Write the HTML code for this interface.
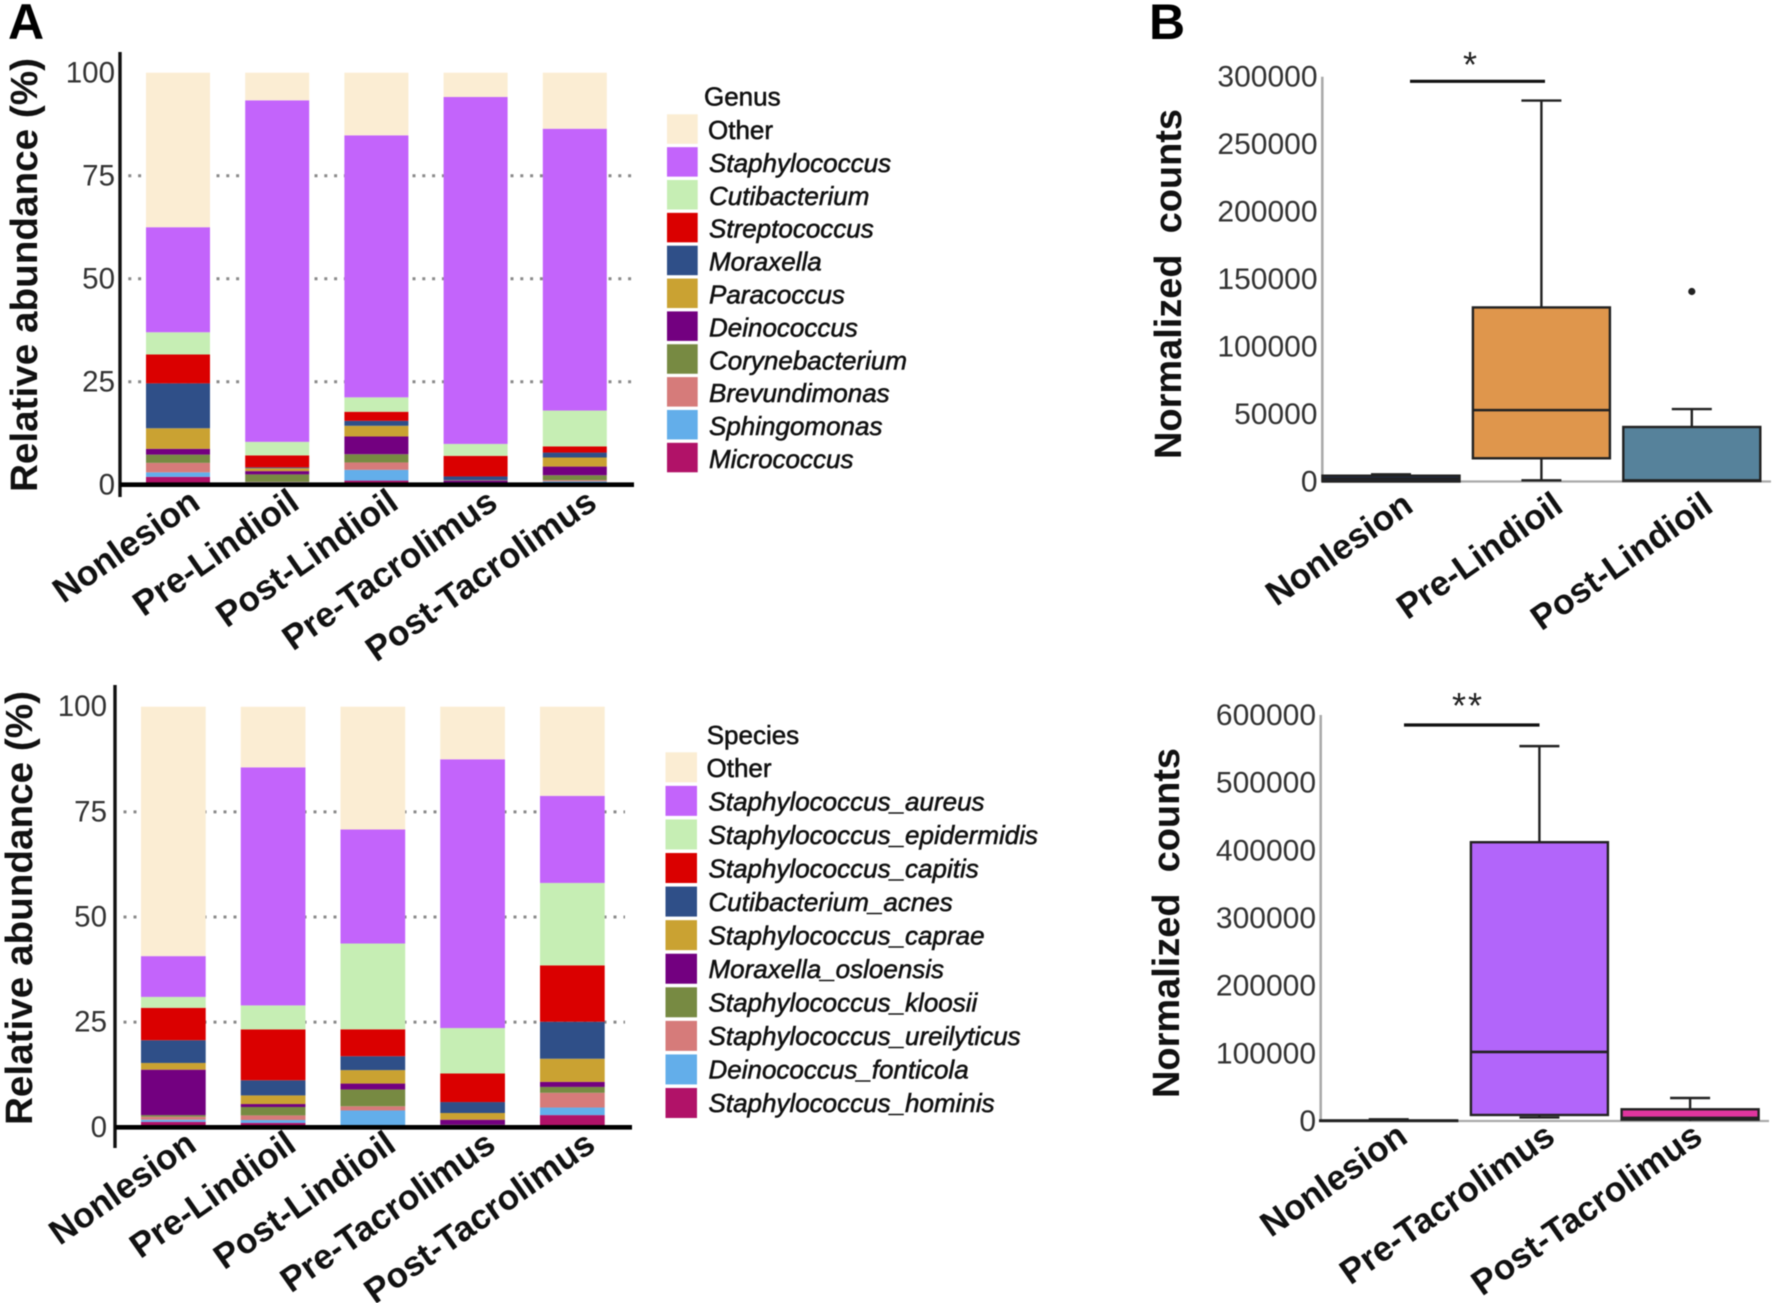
<!DOCTYPE html>
<html lang="en">
<head>
<meta charset="utf-8">
<title>Relative abundance and normalized counts</title>
<style>
html,body{margin:0;padding:0;background:#fff;}
#figure{display:block;width:1772px;height:1303px;font-family:"Liberation Sans",sans-serif;filter:blur(0.45px);}
.tick{font-size:29.5px;fill:#333;text-anchor:end;}
.cat{font-size:35px;font-weight:700;fill:#111;text-anchor:end;}
.leg{font-size:26px;fill:#111;stroke:#111;stroke-width:.55px;}
.ytitle{font-size:38px;font-weight:700;fill:#111;white-space:pre;}
.panel{font-size:50px;font-weight:700;fill:#000;}
.star{font-size:36px;fill:#222;text-anchor:middle;}
</style>
</head>
<body>
<svg id="figure" xmlns="http://www.w3.org/2000/svg" width="1772" height="1303" viewBox="0 0 1772 1303">
  <rect x="0" y="0" width="1772" height="1303" fill="#ffffff"/>
  <text class="panel" x="8" y="39">A</text>
  <text class="panel" x="1149" y="39">B</text>
  <text class="ytitle" transform="translate(37,492) rotate(-90)" textLength="434" lengthAdjust="spacingAndGlyphs">Relative abundance (%)</text>
  <text class="ytitle" transform="translate(32,1125) rotate(-90)" textLength="434" lengthAdjust="spacingAndGlyphs">Relative abundance (%)</text>
  <text class="ytitle" transform="translate(1181,459) rotate(-90)" textLength="350" lengthAdjust="spacingAndGlyphs">Normalized  counts</text>
  <text class="ytitle" transform="translate(1179,1098) rotate(-90)" textLength="350" lengthAdjust="spacingAndGlyphs">Normalized  counts</text>
  <text class="star" x="1470" y="77">*</text>
  <text class="star" x="1468" y="718" letter-spacing="2">**</text>
  <line x1="1410" y1="81.3" x2="1545" y2="81.3" stroke="#111" stroke-width="3.2"/>
  <line x1="1404" y1="725" x2="1539.5" y2="725" stroke="#111" stroke-width="3.2"/>
</svg>
<script>
// ---------- Panel A data ----------
const stackCategories = ["Nonlesion", "Pre-Lindioil", "Post-Lindioil", "Pre-Tacrolimus", "Post-Tacrolimus"];
const abundanceTicks = [0, 25, 50, 75, 100];
const gridTicks = [25, 50, 75];

const genusNames = ["Other", "Staphylococcus", "Cutibacterium", "Streptococcus", "Moraxella", "Paracoccus", "Deinococcus", "Corynebacterium", "Brevundimonas", "Sphingomonas", "Micrococcus"];
const genusOther = [37.5, 6.7, 15.2, 5.9, 13.6];
const genusStaphylococcus = [25.5, 82.9, 63.6, 84.2, 68.4];
const genusCutibacterium = [5.4, 3.3, 3.5, 2.9, 8.7];
const genusStreptococcus = [7, 2.9, 2.2, 5, 1.5];
const genusMoraxella = [10.9, 0.2, 1.2, 0.9, 1.2];
const genusParacoccus = [5, 0.7, 2.6, 0.1, 2.2];
const genusDeinococcus = [1.4, 0.8, 4.3, 0.5, 2.1];
const genusCorynebacterium = [2, 1.8, 2, 0.1, 1.2];
const genusBrevundimonas = [2.3, 0.1, 1.8, 0.1, 0.3];
const genusSphingomonas = [1.1, 0.4, 2.6, 0.1, 0.3];
const genusMicrococcus = [1.9, 0.2, 1, 0.2, 0.5];

const speciesNames = ["Other", "Staphylococcus_aureus", "Staphylococcus_epidermidis", "Staphylococcus_capitis", "Cutibacterium_acnes", "Staphylococcus_caprae", "Moraxella_osloensis", "Staphylococcus_kloosii", "Staphylococcus_ureilyticus", "Deinococcus_fonticola", "Staphylococcus_hominis"];
const speciesOther = [59.3, 14.4, 29.2, 12.5, 21.2];
const speciesAureus = [9.7, 56.6, 27.1, 63.9, 20.7];
const speciesEpidermidis = [2.6, 5.7, 20.4, 10.8, 19.6];
const speciesCapitis = [7.7, 12.1, 6.4, 6.8, 13.4];
const speciesAcnes = [5.4, 3.6, 3.3, 2.6, 8.8];
const speciesCaprae = [1.6, 2.05, 3.2, 1.6, 5.5];
const speciesOsloensis = [10.8, 0.7, 1.4, 1.2, 1.2];
const speciesKloosii = [0.4, 2, 4, 0.1, 1.4];
const speciesUreilyticus = [0.7, 1.1, 1, 0.1, 3.5];
const speciesFonticola = [0.5, 0.7, 3.9, 0.1, 1.8];
const speciesHominis = [1.3, 1.03, 0.1, 0.3, 2.9];

const genusRows = [genusOther, genusStaphylococcus, genusCutibacterium, genusStreptococcus, genusMoraxella, genusParacoccus, genusDeinococcus, genusCorynebacterium, genusBrevundimonas, genusSphingomonas, genusMicrococcus];
const speciesRows = [speciesOther, speciesAureus, speciesEpidermidis, speciesCapitis, speciesAcnes, speciesCaprae, speciesOsloensis, speciesKloosii, speciesUreilyticus, speciesFonticola, speciesHominis];

// ---------- Panel B data ----------
const lindioilCategories = ["Nonlesion", "Pre-Lindioil", "Post-Lindioil"];
const lindioilTicks = [0, 50000, 100000, 150000, 200000, 250000, 300000];
const lindioilWhiskerHigh = [5300, 282300, 53700];
const lindioilQ3 = [4300, 129000, 40400];
const lindioilMedian = [2000, 52900, 800];
const lindioilQ1 = [0, 17200, 400];
const lindioilWhiskerLow = [0, 900, 0];
const lindioilOutlier = [null, null, 140800];

const tacrolimusCategories = ["Nonlesion", "Pre-Tacrolimus", "Post-Tacrolimus"];
const tacrolimusTicks = [0, 100000, 200000, 300000, 400000, 500000, 600000];
const tacrolimusWhiskerHigh = [2500, 554000, 34000];
const tacrolimusQ3 = [800, 412000, 17300];
const tacrolimusMedian = [500, 102000, 4500];
const tacrolimusQ1 = [0, 8900, 2000];
const tacrolimusWhiskerLow = [0, 5200, 0];
const tacrolimusOutlier = [null, null, null];

// ---------- Styles ----------
const stackPalette = ["#FBEDD3", "#C364FB", "#C6EEB4", "#DA0000", "#2F4F88", "#CAA232", "#730080", "#778A42", "#D67B7A", "#63AEEA", "#B11268"];
const lindioilFills = ["#1F2F55", "#DF964C", "#56829B"];
const tacrolimusFills = ["#1F2F55", "#B265FA", "#E0359E"];

const SVG_NS = "http://www.w3.org/2000/svg";
const root = document.getElementById("figure");

function make(tag, props, text) {
  const el = document.createElementNS(SVG_NS, tag);
  for (const k in props) el.setAttribute(k, props[k]);
  if (text !== undefined) el.textContent = text;
  root.appendChild(el);
  return el;
}

function slug(s) {
  return s.toLowerCase().replace(/[^a-z0-9]+/g, "-");
}

function drawStacked(prefix, rows, names, frame) {
  const yScale = v => frame.y0 - (v / 100) * (frame.y0 - frame.y100);
  const xBar = i => frame.firstBar + i * frame.barStep;

  gridTicks.forEach(t => {
    const g = make("line", {x1: frame.axisX, x2: frame.gridEnd, y1: yScale(t), y2: yScale(t), stroke: "#8a8a8a", "stroke-width": 3, "stroke-dasharray": "3 " + (frame.dotStep - 3), "stroke-dashoffset": 1.5});
    
    
  });

  stackCategories.forEach((cat, i) => {
    let cum = 0;
    for (let r = rows.length - 1; r >= 0; r--) {
      const v = rows[r][i];
      const bar = make("rect", {x: xBar(i), width: frame.barWidth, y: yScale(cum + v), height: yScale(cum) - yScale(cum + v), fill: stackPalette[r]});
      
      
      cum += v;
    }
    const label = make("text", {class: "cat", transform: "translate(" + (xBar(i) + frame.barWidth / 2 + frame.catDx) + "," + frame.catY + ") rotate(-35)"}, cat);
    
    
  });

  const yAxis = make("line", {x1: frame.axisX, x2: frame.axisX, y1: frame.axisTop, y2: frame.axisBottom, stroke: "#111", "stroke-width": 3.4});
  
  
  const xAxis = make("line", {x1: frame.axisX, x2: frame.xEnd, y1: frame.y0, y2: frame.y0, stroke: "#000", "stroke-width": 4.6});
  
  

  abundanceTicks.forEach(t => {
    const lab = make("text", {class: "tick", x: frame.tickX, y: yScale(t) + frame.tickDy}, String(t));
    
    
  });

  const title = make("text", {x: frame.legTitleX, y: frame.legTitleY, class: "leg"}, frame.legTitle);
  
  

  names.forEach((name, r) => {
    const sw = make("rect", {x: frame.swX, y: frame.swY + r * frame.swStep, width: frame.swW, height: frame.swH, fill: stackPalette[r]});
    
    
    const tx = make("text", {x: r === 0 ? frame.swX + 41 : frame.legTextX, y: frame.legBase + r * frame.legStep, class: "leg", "font-style": r === 0 ? "normal" : "italic"}, name);
    
    
  });
}

function drawBox(prefix, series, frame) {
  const yScale = v => frame.y0 - (v / frame.max) * (frame.y0 - frame.yTop);
  const xC = i => frame.firstCenter + i * frame.step;

  const yAxis = make("line", {x1: frame.axisX, x2: frame.axisX, y1: frame.yTop, y2: frame.y0, stroke: "#aaa", "stroke-width": 2.6});
  
  
  const xAxis = make("line", {x1: frame.axisX, x2: frame.xEnd, y1: frame.y0, y2: frame.y0, stroke: "#aaa", "stroke-width": 2.2});
  
  

  series.ticks.forEach(t => {
    const lab = make("text", {class: "tick", style: "font-size:30px", x: frame.tickX, y: yScale(t) + 10}, String(t));
    
    
  });

  series.categories.forEach((cat, i) => {
    const c = xC(i);
    const name = slug(cat);
    const hw = frame.boxWidth / 2;
    const capW = frame.capWidth / 2;
    const stroke = "#222";

    const whisker = make("line", {x1: c, x2: c, y1: yScale(series.high[i]), y2: yScale(series.low[i]), stroke: stroke, "stroke-width": 2.4});
    
    
    const capHigh = make("line", {x1: c - capW, x2: c + capW, y1: yScale(series.high[i]), y2: yScale(series.high[i]), stroke: stroke, "stroke-width": 2.4});
    
    
    if (series.low[i] > 0) {
      const capLow = make("line", {x1: c - capW, x2: c + capW, y1: yScale(series.low[i]), y2: yScale(series.low[i]), stroke: stroke, "stroke-width": 2.4});
      
      
    }

    const box = make("rect", {x: c - hw, width: frame.boxWidth, y: yScale(series.q3[i]), height: yScale(series.q1[i]) - yScale(series.q3[i]), fill: series.fills[i], stroke: stroke, "stroke-width": 2.4});
    
    
    const med = make("line", {x1: c - hw, x2: c + hw, y1: yScale(series.median[i]), y2: yScale(series.median[i]), stroke: stroke, "stroke-width": 2.6});
    
    

    if (series.outlier[i] !== null) {
      const dot = make("circle", {cx: c, cy: yScale(series.outlier[i]), r: 3.6, fill: "#222"});
      
      
    }

    const label = make("text", {class: "cat", transform: "translate(" + (frame.catX0 + i * frame.catStep) + "," + frame.catY + ") rotate(-35)"}, cat);
    
    
  });
}

drawStacked("genus", genusRows, genusNames, {
  y0: 484.7, y100: 72.7, axisX: 120, axisTop: 52, axisBottom: 497, xEnd: 634, gridEnd: 633,
  dotStep: 9.8, firstBar: 146, barStep: 99.2, barWidth: 64, tickX: 115, tickDy: 10, catDx: 24, catY: 507,
  legTitle: "Genus", legTitleX: 704, legTitleY: 105.5, swX: 667, swY: 114.3, swStep: 32.85, swW: 30.7, swH: 29.5,
  legTextX: 709, legBase: 139, legStep: 32.9
});

drawStacked("species", speciesRows, speciesNames, {
  y0: 1127.3, y100: 706.7, axisX: 115, axisTop: 685, axisBottom: 1148, xEnd: 632, gridEnd: 625,
  dotStep: 10, firstBar: 141, barStep: 99.75, barWidth: 64.7, tickX: 107, tickDy: 9.5, catDx: 25, catY: 1149,
  legTitle: "Species", legTitleX: 706.7, legTitleY: 744, swX: 665.5, swY: 752.3, swStep: 33.57, swW: 31.5, swH: 30,
  legTextX: 708.5, legBase: 777, legStep: 33.5
});

drawBox("lindioil", {
  categories: lindioilCategories, ticks: lindioilTicks, high: lindioilWhiskerHigh, q3: lindioilQ3,
  median: lindioilMedian, q1: lindioilQ1, low: lindioilWhiskerLow, outlier: lindioilOutlier, fills: lindioilFills
}, {
  y0: 481.5, yTop: 76.7, max: 300000, axisX: 1322.3, xEnd: 1771, tickX: 1317.5,
  firstCenter: 1391, step: 150.4, boxWidth: 137, capWidth: 40, catX0: 1415, catStep: 150, catY: 510
});

drawBox("tacrolimus", {
  categories: tacrolimusCategories, ticks: tacrolimusTicks, high: tacrolimusWhiskerHigh, q3: tacrolimusQ3,
  median: tacrolimusMedian, q1: tacrolimusQ1, low: tacrolimusWhiskerLow, outlier: tacrolimusOutlier, fills: tacrolimusFills
}, {
  y0: 1121, yTop: 715, max: 600000, axisX: 1320.7, xEnd: 1769, tickX: 1316,
  firstCenter: 1388.7, step: 150.7, boxWidth: 137, capWidth: 40, catX0: 1409.5, catStep: 147.5, catY: 1141
});
</script>
</body>
</html>
